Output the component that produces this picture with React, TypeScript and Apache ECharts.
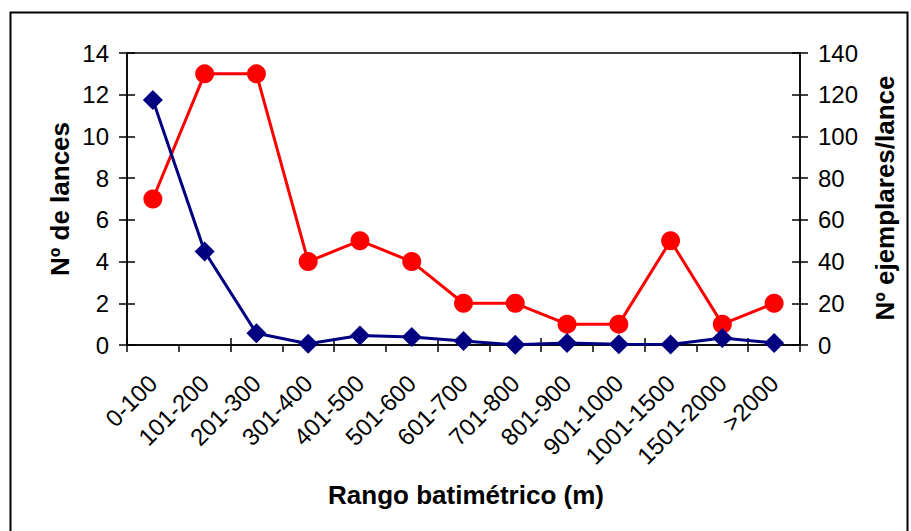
import React, { useEffect, useRef } from "react";
import * as echarts from "echarts";

const categories = ["0-100", "101-200", "201-300", "301-400", "401-500", "501-600", "601-700", "701-800", "801-900", "901-1000", "1001-1500", "1501-2000", ">2000"];
const lances = [7, 13, 13, 4, 5, 4, 2, 2, 1, 1, 5, 1, 2];
const ejemplares = [117.5, 44.8, 5.6, 0.6, 4.6, 3.8, 1.9, 0.1, 1, 0.3, 0.2, 3.4, 1];

const FONT = "'Liberation Sans', Arial, sans-serif";

export default function App() {
  const ref = useRef<HTMLDivElement>(null);
  useEffect(() => {
    const chart = echarts.init(ref.current!, null, { renderer: "svg" });
    const grid = { left: 127, top: 53, right: 111, bottom: 186 };
    chart.setOption({
      animation: false,
      backgroundColor: "#fff",
      grid: { ...grid, show: true, borderColor: "#000", borderWidth: 1.5, backgroundColor: "transparent" },
      xAxis: [
        {
          type: "category",
          data: categories,
          boundaryGap: true,
          axisLine: { lineStyle: { color: "#000", width: 1.5 } },
          axisTick: { show: true, length: 7, lineStyle: { color: "#000", width: 1.5 } },
          axisLabel: { rotate: 45, fontSize: 24, color: "#000", fontFamily: FONT, margin: 34, interval: 0 },
        },
        {
          type: "category",
          data: categories,
          position: "bottom",
          boundaryGap: true,
          axisLine: { show: false },
          axisTick: { show: true, inside: true, length: 7, lineStyle: { color: "#000", width: 1.5 } },
          axisLabel: { show: false },
        },
      ],
      yAxis: [
        {
          type: "value",
          min: 0,
          max: 14,
          interval: 2,
          position: "left",
          axisLine: { show: true, lineStyle: { color: "#000", width: 1.5 } },
          axisTick: { show: true, length: 8, lineStyle: { color: "#000", width: 1.5 } },
          axisLabel: { fontSize: 24, color: "#000", fontFamily: FONT, margin: 18 },
          splitLine: { show: false },
        },
        {
          type: "value",
          min: 0,
          max: 140,
          interval: 20,
          position: "right",
          axisLine: { show: true, lineStyle: { color: "#000", width: 1.5 } },
          axisTick: { show: true, length: 8, lineStyle: { color: "#000", width: 1.5 } },
          axisLabel: { fontSize: 24, color: "#000", fontFamily: FONT, margin: 18 },
          splitLine: { show: false },
        },
        {
          type: "value",
          min: 0,
          max: 14,
          interval: 2,
          position: "left",
          axisLine: { show: false },
          axisTick: { show: true, inside: true, length: 8, lineStyle: { color: "#000", width: 1.5 } },
          axisLabel: { show: false },
          splitLine: { show: false },
        },
        {
          type: "value",
          min: 0,
          max: 140,
          interval: 20,
          position: "right",
          axisLine: { show: false },
          axisTick: { show: true, inside: true, length: 8, lineStyle: { color: "#000", width: 1.5 } },
          axisLabel: { show: false },
          splitLine: { show: false },
        },
      ],
      series: [
        {
          name: "Nº de lances",
          type: "line",
          yAxisIndex: 0,
          data: lances,
          symbol: "circle",
          symbolSize: 19,
          lineStyle: { color: "#ff0000", width: 3 },
          itemStyle: { color: "#ff0000" },
        },
        {
          name: "Nº ejemplares/lance",
          type: "line",
          yAxisIndex: 1,
          data: ejemplares,
          symbol: "diamond",
          symbolSize: 20,
          lineStyle: { color: "#000080", width: 3 },
          itemStyle: { color: "#000080" },
        },
      ],
      graphic: [
        {
          type: "rect",
          shape: { x: 10.5, y: 12.5, width: 897, height: 540 },
          style: { fill: "none", stroke: "#000", lineWidth: 2 },
          silent: true,
        },
        {
          type: "text",
          x: 466,
          y: 495,
          style: { text: "Rango batimétrico (m)", font: `bold 26px ${FONT}`, fill: "#000", align: "center", verticalAlign: "middle" },
        },
        {
          type: "text",
          x: 60,
          y: 199,
          rotation: Math.PI / 2,
          style: { text: "Nº de lances", font: `bold 26px ${FONT}`, fill: "#000", align: "center", verticalAlign: "middle" },
        },
        {
          type: "text",
          x: 885,
          y: 198,
          rotation: Math.PI / 2,
          style: { text: "Nº ejemplares/lance", font: `bold 26px ${FONT}`, fill: "#000", align: "center", verticalAlign: "middle" },
        },
      ],
    });
    return () => chart.dispose();
  }, []);
  return <div ref={ref} style={{ position: "fixed", left: 0, top: 0, width: 911, height: 531 }} />;
}
